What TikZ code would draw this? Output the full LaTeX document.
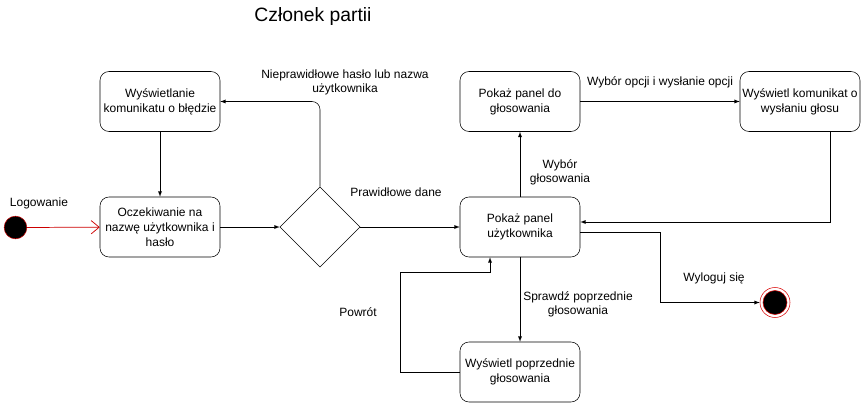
\documentclass[tikz,border=0pt]{standalone}
\usepackage{fontspec}
\setmainfont{Liberation Sans}
\usepackage{xcolor}
\usetikzlibrary{shapes.geometric,arrows.meta}

\begin{document}
\begin{tikzpicture}%
                    [x=0.75pt, y=-0.75pt,
                    state/.style={draw, rounded corners=6.75pt, minimum width=90pt, minimum height=45pt,
                                  inner sep=0pt, align=center, font=\fontsize{9}{11.25}\selectfont},
                    decision/.style={draw, diamond, aspect=1, minimum width=60pt, minimum height=60pt, inner sep=0pt},
                    trans/.style={color=black, -latex},
                    lbl/.style={align=center, font=\fontsize{9}{10.5}\selectfont}]
                \useasboundingbox (0,0) rectangle (861,403);
                %% Title
                \node[font=\fontsize{14.5}{17}\selectfont] (title) at (313,17) {Członek partii};
                %%
                %% Drawing the states
                %%
                \node[draw=red!75!black, fill=black, circle, minimum size=17pt, inner sep=0pt] (start) at (15.5,227.5) {};
                \node[state] (err) at (160,101.5) {Wyświetlanie\\komunikatu o błędzie};
                \node[state] (wait) at (160,227) {Oczekiwanie na\\nazwę użytkownika i\\hasło};
                \node[decision] (dec) at (320,227) {};
                \node[state] (user) at (520,227) {Pokaż panel\\użytkownika};
                \node[state] (plan) at (520,101.5) {Pokaż panel do\\głosowania};
                \node[state] (done) at (800,101.5) {Wyświetl komunikat o\\wysłaniu głosu};
                \node[state] (prev) at (520,372) {Wyświetl poprzednie\\głosowania};
                \node[draw=red!85!black, circle, minimum size=22.5pt, inner sep=0pt] (stop) at (775,302.5) {};
                \node[draw=red!85!black, fill=black, circle, minimum size=18pt, inner sep=0pt] (stopin) at (stop) {};
                \coordinate (back) at (400,272);
                \coordinate (turn) at (660,302.5);
                %%
                %% Drawing the transitions
                %%
                \draw[color=red!80!black, line width=0.55pt, -{Straight Barb[length=6pt, width=10pt]}] (start) -- (wait);
                \draw[trans] (err) -- (wait);
                \draw[trans] (wait) -- (dec);
                \draw[trans, rounded corners=6pt] (dec.north) |- (err.east);
                \draw[trans] (dec.east) -- (user.west);
                \draw[trans] (user) -- (plan);
                \draw[trans] (plan) -- (done);
                \draw[trans] ([xshift=22.5pt]done.south) |- ([yshift=3.75pt]user.east);
                \draw[trans] (user) -- (prev);
                \draw[trans] (prev.west) -| (back) -| ([xshift=-22.5pt]user.south);
                \draw[trans] ([yshift=-3.75pt]user.east) -| (turn) -- (stop.west);
                %%
                %% Labels
                %%
                \node[lbl] (l1) at (39,203) {Logowanie};
                \node[lbl] (l2) at (345,82.5) {Nieprawidłowe hasło lub nazwa\\użytkownika};
                \node[lbl] (l3) at (396,192) {Prawidłowe dane};
                \node[lbl] (l4) at (560,172) {Wybór\\głosowania};
                \node[lbl] (l5) at (660,82) {Wybór opcji i wysłanie opcji};
                \node[lbl] (l6) at (578,304) {Sprawdź poprzednie\\głosowania};
                \node[lbl] (l7) at (358,312) {Powrót};
                \node[lbl] (l8) at (714,278) {Wyloguj się};
                \end{tikzpicture}
\end{document}
